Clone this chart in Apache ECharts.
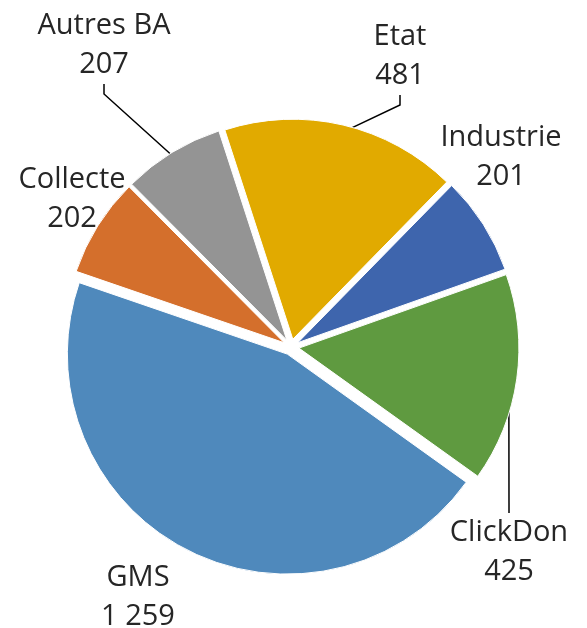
<!DOCTYPE html>
<html>
<head>
<meta charset="utf-8">
<script src="https://cdn.jsdelivr.net/npm/echarts@6/dist/echarts.min.js"></script>
<style>
  html, body { margin: 0; padding: 0; background: #fff; }
  #chart { width: 587px; height: 628px; }
</style>
</head>
<body>
<div id="chart"></div>
<script>
// donnees
var categories = ['Etat', 'Industrie', 'ClickDon', 'GMS', 'Collecte', 'Autres BA'];
var values = [481, 201, 425, 1259, 202, 207];
var colors = ['#e1aa00', '#3e65ad', '#5f9a40', '#4f89bc', '#d46f2c', '#949494'];
var withLeader = ['Etat', 'ClickDon', 'Autres BA'];

// place des etiquettes (centre du bloc de texte)
var labelPos = {
  'Etat': [400, 56],
  'Industrie': [501, 157],
  'ClickDon': [509, 552],
  'GMS': [138, 597],
  'Collecte': [72, 199],
  'Autres BA': [104, 45]
};

function fmt(v) {
  return String(v).replace(/\B(?=(\d{3})+(?!\d))/g, ' ');
}

var pieCenter = [291, 347];
var pieRadius = 220;

// parts eclatees
var sliceData = categories.map(function (name, i) {
  return {
    name: name,
    value: values[i],
    selected: true,
    itemStyle: { color: colors[i] }
  };
});

// memes donnees, seulement pour les etiquettes
var labelData = categories.map(function (name, i) {
  return {
    name: name,
    value: values[i],
    labelLine: { show: withLeader.indexOf(name) >= 0 }
  };
});

var chart = echarts.init(document.getElementById('chart'));
var option = {
  animation: false,
  series: [
    {
      type: 'pie',
      center: pieCenter,
      radius: pieRadius,
      startAngle: 108,
      clockwise: true,
      selectedMode: 'multiple',
      selectedOffset: 8,
      silent: true,
      itemStyle: { borderColor: '#fff', borderWidth: 1 },
      label: { show: false },
      labelLine: { show: false },
      data: sliceData
    },
    {
      type: 'pie',
      center: pieCenter,
      radius: pieRadius,
      startAngle: 108,
      clockwise: true,
      silent: true,
      itemStyle: { color: 'rgba(0,0,0,0)' },
      label: {
        show: true,
        position: 'outside',
        overflow: 'none',
        fontFamily: 'Open Sans',
        fontSize: 29,
        lineHeight: 39,
        color: '#262626',
        formatter: function (p) {
          return p.name + '\n' + fmt(p.value);
        }
      },
      labelLine: {
        show: false,
        lineStyle: { color: '#000', width: 1.5 },
        length: 10,
        length2: 10
      },
      labelLayout: function (params) {
        var pos = labelPos[categories[params.dataIndex]];
        return {
          x: pos[0],
          y: pos[1],
          align: 'center',
          verticalAlign: 'middle'
        };
      },
      data: labelData
    }
  ]
};
chart.setOption(option);
</script>
</body>
</html>
